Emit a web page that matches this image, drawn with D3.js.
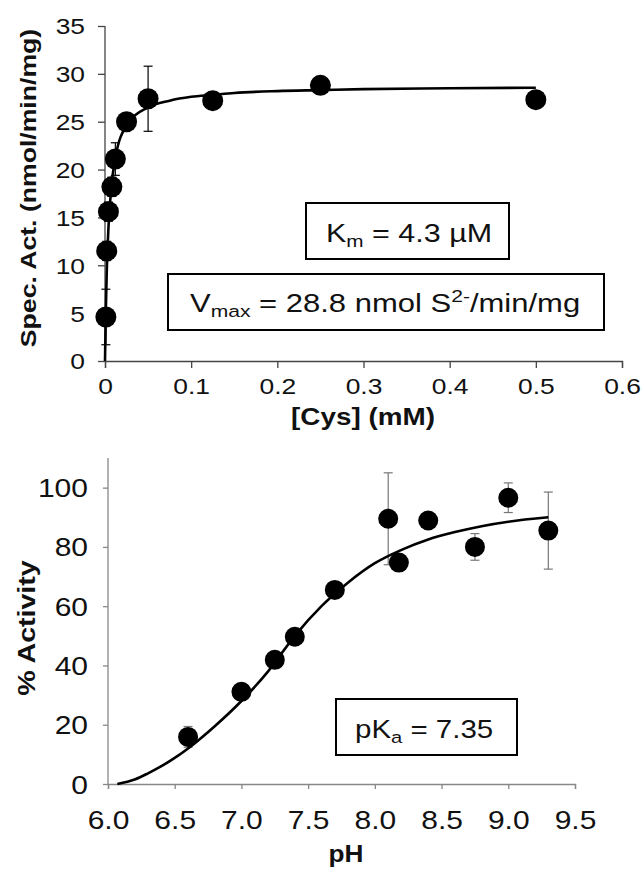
<!DOCTYPE html>
<html>
<head>
<meta charset="utf-8">
<script src="https://cdn.jsdelivr.net/npm/d3@7"></script>
<style>
  body { margin: 0; background: #fff; }
  svg text { font-family: Arial, "Liberation Sans", sans-serif; fill: #111; }
</style>
</head>
<body>
<div id="vis"></div>
<script>
// top panel: activity vs [Cys]
var cys_conc = [0.001, 0.002, 0.004, 0.008, 0.012, 0.025, 0.05, 0.125, 0.25, 0.5];
var cys_act  = [4.6, 11.5, 15.6, 18.2, 21.1, 25.0, 27.4, 27.2, 28.8, 27.3];
var cys_err  = [2.9, 1.0, 1.0, 1.0, 1.7, 0.5, 3.4, 0.5, 0.5, 0.5];
// fitted curve
var cys_fit_x = [0, 0.001, 0.002, 0.004, 0.008, 0.012, 0.025, 0.05, 0.075, 0.1, 0.125, 0.15, 0.2, 0.25, 0.3, 0.4, 0.5];
var cys_fit_y = [0, 5.4, 9.2, 13.9, 18.7, 21.2, 24.6, 26.5, 27.2, 27.6, 27.8, 28.0, 28.2, 28.3, 28.4, 28.5, 28.55];
var cys_xticks = [0, 0.1, 0.2, 0.3, 0.4, 0.5, 0.6];
var cys_yticks = [0, 5, 10, 15, 20, 25, 30, 35];

// bottom panel: activity vs pH
var ph_vals = [6.6, 7.0, 7.25, 7.4, 7.7, 8.1, 8.18, 8.4, 8.75, 9.0, 9.3];
var ph_act  = [15.9, 31.1, 41.9, 49.7, 65.5, 89.5, 74.7, 88.9, 80.0, 96.6, 85.5];
var ph_err  = [3.5, 1.0, 1.0, 1.0, 1.0, 15.5, 1.0, 1.0, 4.5, 5.0, 13.0];
var ph_fit_x = [6.07, 6.2, 6.3, 6.4, 6.5, 6.6, 6.8, 7.0, 7.2, 7.4, 7.6, 7.8, 8.0, 8.2, 8.4, 8.6, 8.8, 9.0, 9.3];
var ph_fit_y = [0, 1.5, 3.6, 6, 8.8, 12, 19.5, 28, 38, 50, 60, 68, 74.5, 79, 82.5, 85, 87, 88.5, 90];
var ph_xticks = [6.0, 6.5, 7.0, 7.5, 8.0, 8.5, 9.0, 9.5];
var ph_yticks = [0, 20, 40, 60, 80, 100];

var svg = d3.select("#vis")
  .append("svg")
    .attr("width", 642)
    .attr("height", 871);

function drawPanel(o) {
  var x = d3.scaleLinear().domain(o.xdom).range(o.xr),
      y = d3.scaleLinear().domain(o.ydom).range(o.yr);

  var g = svg.append("g");

  var xAxis = d3.axisBottom(x).tickValues(o.xticks).tickFormat(o.xfmt).tickSize(o.tick).tickSizeOuter(o.tick),
      yAxis = d3.axisLeft(y).tickValues(o.yticks).tickFormat(d3.format("d")).tickSize(o.tick).tickSizeOuter(0);

  var gx = g.append("g")
      .attr("transform", "translate(0," + o.yr[0] + ")")
      .call(xAxis);
  var gy = g.append("g")
      .attr("transform", "translate(" + o.xr[0] + ",0)")
      .call(yAxis);

  // the source figure's text is a bit wider than Arial, hence the scaleX
  [gx, gy].forEach(function(a) {
    a.selectAll("path, line").attr("stroke", o.axisColor).attr("stroke-width", 1.3);
    a.selectAll("text").attr("font-size", o.tickFont).attr("fill", "#111")
      .attr("font-family", "Arial, 'Liberation Sans', sans-serif")
      .attr("transform", "scale(" + o.sx + ",1)");
  });
  gx.selectAll("text").attr("dy", null).attr("y", o.xLabelY);
  gy.selectAll("text").attr("x", -o.yLabelX / o.sx).attr("dy", "0.36em");
  gy.select(".domain").attr("d", "M0," + y(o.ydom[1]) + "V" + o.yr[0]);

  // error bars
  var pts = d3.zip(o.xs, o.ys, o.errs);
  var eb = g.append("g").attr("stroke", o.errColor).attr("stroke-width", 1.2);
  pts.forEach(function(d) {
    var cx = x(d[0]), lo = y(d[1] - d[2]), hi = y(d[1] + d[2]);
    eb.append("line").attr("x1", cx).attr("x2", cx).attr("y1", lo).attr("y2", hi);
    eb.append("line").attr("x1", cx - 4.5).attr("x2", cx + 4.5).attr("y1", lo).attr("y2", lo);
    eb.append("line").attr("x1", cx - 4.5).attr("x2", cx + 4.5).attr("y1", hi).attr("y2", hi);
  });

  // fit line
  var line = d3.line()
      .x(function(d) { return x(d[0]); })
      .y(function(d) { return y(d[1]); })
      .curve(d3.curveMonotoneX);
  g.append("path")
      .datum(d3.zip(o.fitx, o.fity))
      .attr("d", line)
      .attr("fill", "none")
      .attr("stroke", "#000")
      .attr("stroke-width", 2.6);

  g.selectAll("circle.pt")
      .data(pts)
    .enter().append("circle")
      .attr("class", "pt")
      .attr("cx", function(d) { return x(d[0]); })
      .attr("cy", function(d) { return y(d[1]); })
      .attr("r", o.r)
      .attr("fill", "#000");

  // axis titles
  g.append("text")
      .attr("transform", "translate(" + o.xTitle[0] + "," + o.xTitle[1] + ") scale(" + o.xTitle[2] + ",1)")
      .attr("text-anchor", "middle")
      .attr("font-weight", "bold")
      .attr("font-size", o.xTitleFont)
      .text(o.xlabel);
  g.append("text")
      .attr("transform", "translate(" + o.yTitle[0] + "," + o.yTitle[1] + ") rotate(-90) scale(" + o.yTitle[2] + ",1)")
      .attr("text-anchor", "middle")
      .attr("font-weight", "bold")
      .attr("font-size", o.yTitleFont)
      .text(o.ylabel);
  return g;
}

function addBox(x0, y0, w, h, tx, ty, sx, parts) {
  svg.append("rect")
      .attr("x", x0).attr("y", y0).attr("width", w).attr("height", h)
      .attr("fill", "#fff").attr("stroke", "#000").attr("stroke-width", 2);
  var t = svg.append("text")
      .attr("transform", "translate(" + tx + "," + ty + ") scale(" + sx + ",1)")
      .attr("font-size", 25);
  parts.forEach(function(p) {
    var s = t.append("tspan").text(p[0]);
    if (p[1] == "sub") s.attr("font-size", 17).attr("dy", 5);
    else if (p[1] == "sup") s.attr("font-size", 17).attr("dy", -10);
    else if (p[1] == "base") s.attr("dy", p[2]);
  });
}

drawPanel({
  xdom: [0, 0.6], xr: [105, 622],
  ydom: [0, 35], yr: [361, 26],
  xticks: cys_xticks, yticks: cys_yticks,
  xfmt: function(d) { return d === 0 ? "0" : d3.format(".1f")(d); },
  tick: 7, tickFont: 22, sx: 1.2, xLabelY: 33, yLabelX: 20,
  axisColor: "#444", errColor: "#000",
  xs: cys_conc, ys: cys_act, errs: cys_err,
  fitx: cys_fit_x, fity: cys_fit_y, r: 10.5,
  xlabel: "[Cys] (mM)", xTitle: [363, 425, 1.16], xTitleFont: 24,
  ylabel: "Spec. Act. (nmol/min/mg)", yTitle: [36, 188, 1.21], yTitleFont: 22
});

drawPanel({
  xdom: [6.0, 9.5], xr: [108, 575],
  ydom: [0, 110], yr: [784, 458],
  xticks: ph_xticks, yticks: ph_yticks,
  xfmt: d3.format(".1f"),
  tick: 5, tickFont: 25, sx: 1.2, xLabelY: 45, yLabelX: 20,
  axisColor: "#888", errColor: "#777",
  xs: ph_vals, ys: ph_act, errs: ph_err,
  fitx: ph_fit_x, fity: ph_fit_y, r: 10,
  xlabel: "pH", xTitle: [346, 862, 1.14], xTitleFont: 23,
  ylabel: "% Activity", yTitle: [35, 628, 1.19], yTitleFont: 24
});

addBox(306, 203, 203, 56, 326, 242, 1.22, [["K"], ["m", "sub"], [" = 4.3 \u00b5M", "base", -5]]);
addBox(168, 274, 436, 56, 190, 312, 1.24, [["V"], ["max", "sub"], [" = 28.8 nmol S", "base", -5], ["2-", "sup"], ["/min/mg", "base", 10]]);
addBox(336, 699, 181, 56, 355, 738, 1.18, [["pK"], ["a", "sub"], [" = 7.35", "base", -5]]);
</script>
</body>
</html>
